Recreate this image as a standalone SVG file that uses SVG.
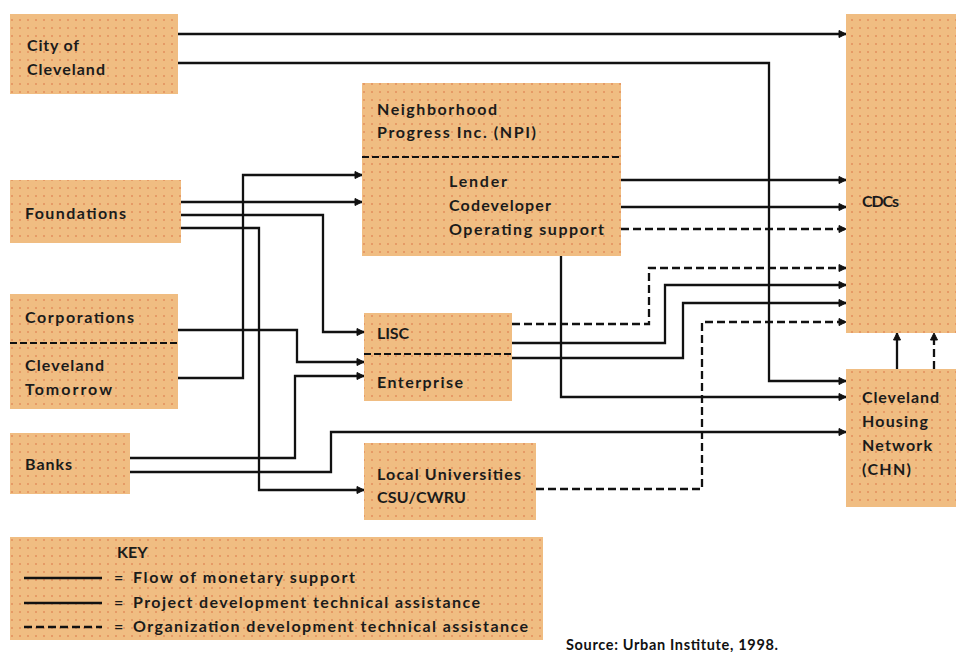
<svg xmlns="http://www.w3.org/2000/svg" width="956" height="652" viewBox="0 0 956 652">
<defs>
<pattern id="dots" x="0" y="0" width="8" height="8" patternUnits="userSpaceOnUse">
<rect width="8" height="8" fill="#F0BD82"/>
<circle cx="4" cy="4" r="1" fill="#E38E5C"/>
</pattern>
<marker id="ah" viewBox="0 0 9 9" refX="8" refY="4.5" markerWidth="9" markerHeight="9" markerUnits="userSpaceOnUse" orient="auto">
<path d="M1,1 L8,4.5 L1,8 z" fill="#111" stroke="#111" stroke-width="1" stroke-linejoin="round"/>
</marker>
<style>
.box{fill:url(#dots);}
.sep{stroke:#111;stroke-width:2.2;stroke-dasharray:7 3;fill:none;}
.t{font-family:Lato,"Open Sans","Liberation Sans",sans-serif;font-size:16px;font-weight:bold;fill:#1b1b1b;}
.c{fill:none;stroke:#111;stroke-width:2.3;}
.ca{fill:none;stroke:#111;stroke-width:2.3;marker-end:url(#ah);}
.d{stroke-dasharray:8 4;}
.src{font-family:Lato,"Open Sans","Liberation Sans",sans-serif;font-size:14.5px;font-weight:bold;fill:#111;}
</style>
</defs>
<rect width="956" height="652" fill="#fff"/>

<g id="city">
<rect class="box" x="10" y="14" width="168" height="80"/>
<text class="t" x="27" y="51" textLength="52" lengthAdjust="spacing">City of</text>
<text class="t" x="27" y="75" textLength="78" lengthAdjust="spacing">Cleveland</text>
</g>

<g id="npi">
<rect class="box" x="362" y="83" width="259" height="173"/>
<text class="t" x="377" y="115" textLength="120" lengthAdjust="spacing">Neighborhood</text>
<text class="t" x="377" y="138" textLength="159" lengthAdjust="spacing">Progress Inc. (NPI)</text>
<line class="sep" x1="362" y1="157" x2="621" y2="157"/>
<text class="t" x="449" y="187" textLength="58" lengthAdjust="spacing">Lender</text>
<text class="t" x="449" y="211" textLength="102" lengthAdjust="spacing">Codeveloper</text>
<text class="t" x="449" y="235" textLength="155" lengthAdjust="spacing">Operating support</text>
</g>

<g id="cdcs">
<rect class="box" x="846" y="14" width="110" height="319"/>
<text class="t" x="862" y="207" textLength="37" lengthAdjust="spacing">CDCs</text>
</g>

<g id="foundations">
<rect class="box" x="10" y="180" width="171" height="63"/>
<text class="t" x="25" y="219" textLength="101" lengthAdjust="spacing">Foundations</text>
</g>

<g id="corporations">
<rect class="box" x="10" y="294" width="168" height="115"/>
<text class="t" x="25" y="323" textLength="109" lengthAdjust="spacing">Corporations</text>
<line class="sep" x1="10" y1="343" x2="178" y2="343"/>
<text class="t" x="25" y="371" textLength="79" lengthAdjust="spacing">Cleveland</text>
<text class="t" x="25" y="395" textLength="87" lengthAdjust="spacing">Tomorrow</text>
</g>

<g id="banks">
<rect class="box" x="10" y="433" width="120" height="61"/>
<text class="t" x="25" y="470" textLength="47" lengthAdjust="spacing">Banks</text>
</g>

<g id="lisc">
<rect class="box" x="364" y="313" width="148" height="88"/>
<text class="t" x="377" y="339" textLength="32" lengthAdjust="spacing">LISC</text>
<line class="sep" x1="364" y1="354" x2="512" y2="354"/>
<text class="t" x="377" y="388" textLength="86" lengthAdjust="spacing">Enterprise</text>
</g>

<g id="universities">
<rect class="box" x="364" y="443" width="172" height="77"/>
<text class="t" x="377" y="480" textLength="144" lengthAdjust="spacing">Local Universities</text>
<text class="t" x="377" y="503" textLength="89" lengthAdjust="spacing">CSU/CWRU</text>
</g>

<g id="chn">
<rect class="box" x="846" y="369" width="110" height="138"/>
<text class="t" x="862" y="403" textLength="77" lengthAdjust="spacing">Cleveland</text>
<text class="t" x="862" y="427" textLength="66" lengthAdjust="spacing">Housing</text>
<text class="t" x="862" y="451" textLength="70" lengthAdjust="spacing">Network</text>
<text class="t" x="862" y="475" textLength="49" lengthAdjust="spacing">(CHN)</text>
</g>

<g id="connectors">
<path class="ca" d="M178,34 H846"/>
<path class="ca" d="M178,63 H769 V381 H846"/>
<path class="ca" d="M181,202 H362"/>
<path class="ca" d="M181,215 H323 V332 H364"/>
<path class="ca" d="M181,228 H259 V490 H364"/>
<path class="ca" d="M178,378 H243 V175 H362"/>
<path class="ca" d="M178,330 H297 V362 H364"/>
<path class="ca" d="M130,458 H295 V376 H364"/>
<path class="ca" d="M130,472 H331 V432 H846"/>
<path class="ca" d="M621,180 H846"/>
<path class="ca" d="M621,207 H846"/>
<path class="ca d" d="M621,229 H846"/>
<path class="ca" d="M561,256 V397 H846"/>
<path class="ca d" d="M512,324 H649 V268 H846"/>
<path class="ca" d="M512,343 H665 V285 H846"/>
<path class="ca" d="M512,358 H683 V303 H846"/>
<path class="ca d" d="M536,489 H702 V322 H846"/>
<path class="ca" d="M897,369 V333"/>
<path class="ca d" d="M934,369 V333"/>
</g>

<g id="key">
<rect class="box" x="10" y="537" width="533" height="103"/>
<text class="t" x="117" y="558">KEY</text>
<line class="c" x1="24" y1="578" x2="102" y2="578"/>
<line class="c" x1="24" y1="603" x2="102" y2="603"/>
<line class="c d" x1="24" y1="627" x2="102" y2="627"/>
<text class="t" x="114" y="583">=</text>
<text class="t" x="114" y="608">=</text>
<text class="t" x="114" y="632">=</text>
<text class="t" x="133" y="583" textLength="222" lengthAdjust="spacing">Flow of monetary support</text>
<text class="t" x="133" y="608" textLength="347" lengthAdjust="spacing">Project development technical assistance</text>
<text class="t" x="133" y="632" textLength="395" lengthAdjust="spacing">Organization development technical assistance</text>
</g>

<text class="src" x="566" y="650" textLength="212" lengthAdjust="spacing">Source: Urban Institute, 1998.</text>
</svg>
